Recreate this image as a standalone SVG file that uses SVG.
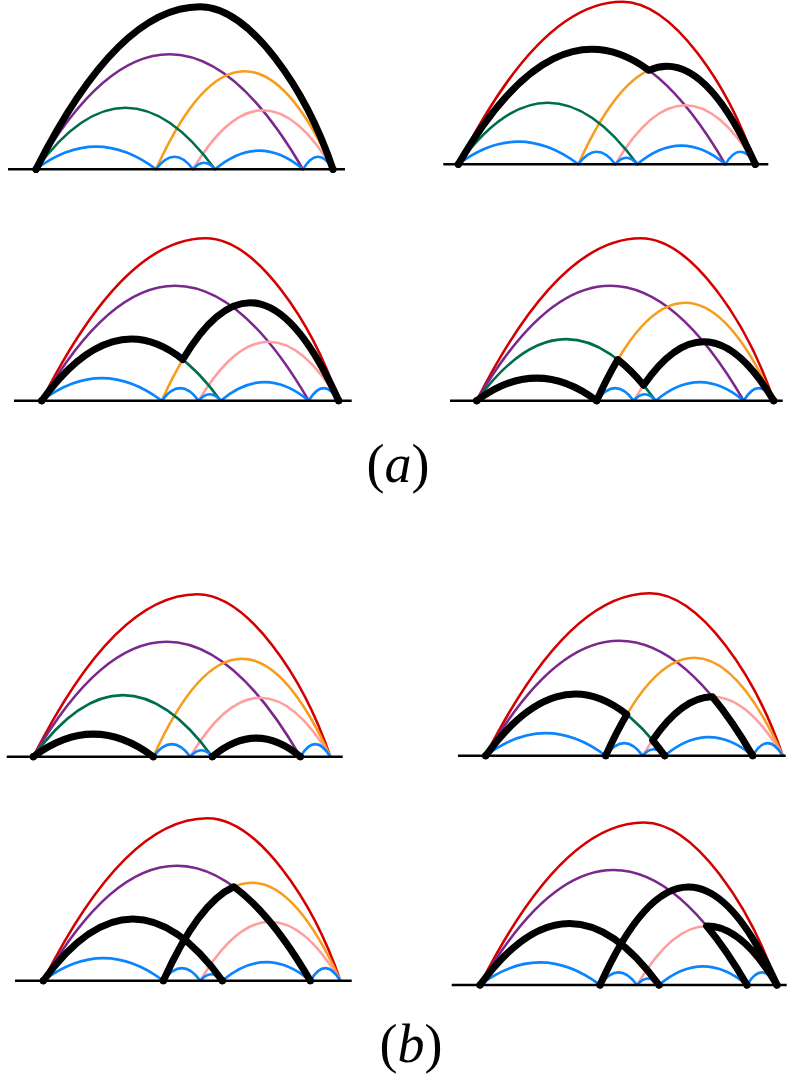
<svg xmlns="http://www.w3.org/2000/svg" xmlns:xlink="http://www.w3.org/1999/xlink" width="787" height="1078" viewBox="0 0 787 1078">
<style>
 .a{fill:none;stroke-width:2.6;stroke-linecap:round}
 .r{stroke:#d40000} .p{stroke:#7a288c} .o{stroke:#f89c1c} .k{stroke:#ff9e9e} .g{stroke:#006e4e} .b{stroke:#0a84ff}
 .base{stroke:#000;stroke-width:2.4}
 .blk{fill:none;stroke:#000;stroke-width:7;stroke-linecap:round;stroke-linejoin:round}
 .dot{fill:#000}
 .lbl{font-family:"Liberation Serif",serif;font-size:54px;fill:#000}
</style>
<defs>
 <g id="arcs">
  <path class="a r" d="M0,0 C54.7,-108.3 109.3,-162.5 164,-162.5 C214,-162.5 270,-80 297,0"/>
  <path class="a p" d="M0,0 Q133.5,-230 267,0"/>
  <path class="a o" d="M120,0 Q208.5,-196 297,0"/>
  <path class="a k" d="M157,0 Q227,-118 297,0"/>
  <path class="a g" d="M0,0 Q89.5,-123.2 179,0"/>
  <path class="a b" d="M0,0 Q60,-45.2 120,0 M120,0 Q138.5,-25.2 157,0 M157,0 Q168,-13 179,0 M179,0 Q223,-37.2 267,0 M267,0 Q282,-25.2 297,0"/>
 </g>
</defs>

<g id="panel1" transform="translate(36,169.3)">
 <use xlink:href="#arcs" href="#arcs"/>
 <line class="base" x1="-28" y1="0" x2="309" y2="0"/>
 <path class="blk" d="M0,0 C54.7,-108.3 109.3,-162.5 164,-162.5 C214,-162.5 270,-80 297,0"/>
 <circle class="dot" cx="0" cy="0" r="3.6"/><circle class="dot" cx="297" cy="0" r="3.6"/>
</g>

<g id="panel2" transform="translate(458.3,164.3)">
 <use xlink:href="#arcs" href="#arcs"/>
 <line class="base" x1="-15" y1="0" x2="310" y2="0"/>
 <path class="blk" d="M0,0 Q95.29,-164.17 190.58,-93.98 Q243.79,-117.84 297,0"/>
 <circle class="dot" cx="0" cy="0" r="3.6"/><circle class="dot" cx="297" cy="0" r="3.6"/>
</g>

<g id="panel3" transform="translate(41.7,400.7)">
 <use xlink:href="#arcs" href="#arcs"/>
 <line class="base" x1="-27.7" y1="0" x2="310" y2="0"/>
 <path class="blk" d="M0,0 Q70.55,-97.11 141.09,-41.13 Q219.05,-172.63 297,0"/>
 <circle class="dot" cx="0" cy="0" r="3.6"/><circle class="dot" cx="297" cy="0" r="3.6"/>
</g>

<g id="panel4" transform="translate(476.7,400.7)">
 <use xlink:href="#arcs" href="#arcs"/>
 <line class="base" x1="-26.7" y1="0" x2="306" y2="0"/>
 <path class="blk" d="M0,0 Q60,-45.2 120,0 Q130.55,-23.35 141.09,-41.13 Q154,-30.89 166.91,-15.52 Q231.96,-109.65 297,0"/>
 <circle class="dot" cx="0" cy="0" r="3.6"/><circle class="dot" cx="120" cy="0" r="3.6"/><circle class="dot" cx="297" cy="0" r="3.6"/>
</g>

<g id="panel5" transform="translate(33.3,756.7)">
 <use xlink:href="#arcs" href="#arcs"/>
 <line class="base" x1="-26.6" y1="0" x2="309.4" y2="0"/>
 <path class="blk" d="M0,0 Q60,-45.2 120,0 M179,0 Q223,-37.2 267,0"/>
 <circle class="dot" cx="0" cy="0" r="3.6"/><circle class="dot" cx="120" cy="0" r="3.6"/><circle class="dot" cx="179" cy="0" r="3.6"/><circle class="dot" cx="267" cy="0" r="3.6"/>
</g>

<g id="panel6" transform="translate(485.7,755.7)">
 <use xlink:href="#arcs" href="#arcs"/>
 <line class="base" x1="-27.7" y1="0" x2="300" y2="0"/>
 <path class="blk" d="M0,0 Q70.55,-97.11 141.09,-41.13 Q130.55,-23.35 120,0 M179,0 Q172.96,-8.32 166.91,-15.52 Q196.79,-58.75 226.66,-59 Q246.83,-34.75 267,0"/>
 <circle class="dot" cx="0" cy="0" r="3.6"/><circle class="dot" cx="120" cy="0" r="3.6"/><circle class="dot" cx="179" cy="0" r="3.6"/><circle class="dot" cx="267" cy="0" r="3.6"/>
</g>

<g id="panel7" transform="translate(43.3,980.7)">
 <use xlink:href="#arcs" href="#arcs"/>
 <line class="base" x1="-28.3" y1="0" x2="308.4" y2="0"/>
 <path class="blk" d="M0,0 Q89.5,-123.2 179,0 M120,0 Q155.29,-78.15 190.58,-93.98 Q228.79,-65.83 267,0"/>
 <circle class="dot" cx="0" cy="0" r="3.6"/><circle class="dot" cx="120" cy="0" r="3.6"/><circle class="dot" cx="179" cy="0" r="3.6"/><circle class="dot" cx="267" cy="0" r="3.6"/>
</g>

<g id="panel8" transform="translate(480,985)">
 <use xlink:href="#arcs" href="#arcs"/>
 <line class="base" x1="-28.3" y1="0" x2="306.7" y2="0"/>
 <path class="blk" d="M0,0 Q89.5,-123.2 179,0 M120,0 Q208.5,-196 297,0 M267,0 Q246.83,-34.75 226.66,-59 Q261.83,-59.29 297,0"/>
 <circle class="dot" cx="0" cy="0" r="3.6"/><circle class="dot" cx="120" cy="0" r="3.6"/><circle class="dot" cx="179" cy="0" r="3.6"/><circle class="dot" cx="267" cy="0" r="3.6"/><circle class="dot" cx="297" cy="0" r="3.6"/>
</g>

<g id="labels">
 <text class="lbl" x="398" y="482" text-anchor="middle">(<tspan font-style="italic">a</tspan>)</text>
 <text class="lbl" x="411" y="1062" text-anchor="middle">(<tspan font-style="italic">b</tspan>)</text>
</g>
</svg>
